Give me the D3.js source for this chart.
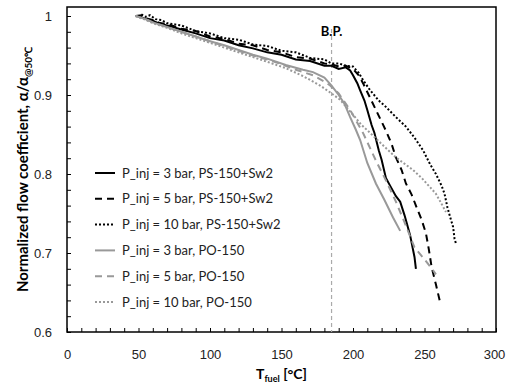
<!DOCTYPE html>
<html>
<head>
<meta charset="utf-8">
<script src="https://cdn.jsdelivr.net/npm/d3@7"></script>
<style>
  body { margin: 0; background: #fff; }
  svg { font-family: Lato, "Open Sans", sans-serif; display: block; }
</style>
</head>
<body>
<div id="chart"></div>
<script>
// series data: temperature [C] and normalized flow coefficient
var psT3  = [50,55,60,65,70,80,90,100,110,120,130,140,150,160,170,180,185,190,195,198,200,203,205,208,210,213,215,218,220,223,226,230,233,236,238,240,243,244];
var psV3  = [1.000,0.996,0.994,0.990,0.988,0.983,0.978,0.972,0.969,0.963,0.959,0.954,0.951,0.945,0.943,0.937,0.937,0.933,0.935,0.931,0.925,0.915,0.906,0.893,0.881,0.862,0.852,0.830,0.818,0.795,0.785,0.772,0.765,0.748,0.735,0.722,0.695,0.680];
var psT5  = [48,52,55,60,65,70,80,90,100,110,120,130,140,150,160,170,180,185,190,195,200,204,207,211,215,219,223,227,230,234,237,241,244,248,251,253,255,258,261];
var psV5  = [1.000,1.001,0.997,0.995,0.991,0.990,0.984,0.981,0.974,0.971,0.965,0.963,0.957,0.954,0.948,0.946,0.940,0.939,0.936,0.937,0.933,0.925,0.915,0.900,0.885,0.870,0.855,0.838,0.821,0.805,0.788,0.774,0.760,0.742,0.725,0.705,0.682,0.660,0.637];
var psT10 = [52,55,58,62,66,70,80,90,100,110,120,130,140,150,160,170,180,185,190,195,200,204,207,212,218,223,230,237,243,249,254,258,262,264,266,268,270,271,272];
var psV10 = [1.002,0.999,1.001,0.996,0.995,0.991,0.988,0.981,0.978,0.972,0.970,0.964,0.962,0.956,0.954,0.947,0.945,0.940,0.940,0.937,0.936,0.928,0.919,0.906,0.893,0.885,0.872,0.860,0.846,0.830,0.812,0.800,0.785,0.775,0.758,0.745,0.733,0.718,0.712];
var poT3  = [48,55,60,70,80,90,100,110,120,130,140,153,165,172,180,185,190,194,198,202,205,210,216,222,228,233];
var poV3  = [1.000,0.996,0.992,0.986,0.980,0.974,0.968,0.963,0.957,0.951,0.946,0.938,0.932,0.929,0.922,0.912,0.900,0.889,0.872,0.856,0.843,0.814,0.788,0.767,0.745,0.728];
var poT5  = [48,55,60,70,80,90,100,110,120,130,140,150,160,172,180,184,190,198,207,216,223,230,236,243,250,256,258];
var poV5  = [1.000,0.996,0.992,0.986,0.980,0.974,0.968,0.962,0.956,0.950,0.945,0.939,0.932,0.925,0.917,0.912,0.902,0.881,0.852,0.817,0.792,0.765,0.739,0.707,0.692,0.678,0.673];
var poT10 = [48,55,60,70,80,90,100,110,120,130,140,153,165,177,185,191,200,206,212,220,230,242,248,254,258,262,265];
var poV10 = [1.000,0.995,0.991,0.985,0.978,0.972,0.966,0.960,0.954,0.948,0.942,0.934,0.924,0.912,0.902,0.894,0.875,0.862,0.852,0.838,0.821,0.805,0.795,0.783,0.775,0.762,0.752];

var seriesNames = ["P_inj = 3 bar, PS-150+Sw2", "P_inj = 5 bar, PS-150+Sw2", "P_inj = 10 bar, PS-150+Sw2",
                   "P_inj = 3 bar, PO-150", "P_inj = 5 bar, PO-150", "P_inj = 10 bar, PO-150"];
var xTicks = [0, 50, 100, 150, 200, 250, 300];
var yTicks = [0.6, 0.7, 0.8, 0.9, 1];
var boilingPoint = 185;

var width = 506, height = 392,
    margin = {top: 7, right: 10, bottom: 60, left: 67};
var w = width - margin.left - margin.right,
    h = height - margin.top - margin.bottom;

var series = [
  {name: seriesNames[0], t: psT3,  v: psV3,  color: "#000", dash: null},
  {name: seriesNames[1], t: psT5,  v: psV5,  color: "#000", dash: "7,5"},
  {name: seriesNames[2], t: psT10, v: psV10, color: "#000", dash: "2,2"},
  {name: seriesNames[3], t: poT3,  v: poV3,  color: "#999", dash: null},
  {name: seriesNames[4], t: poT5,  v: poV5,  color: "#999", dash: "7,5"},
  {name: seriesNames[5], t: poT10, v: poV10, color: "#999", dash: "2,2"}
];

var svg = d3.select("#chart").append("svg")
  .attr("width", width).attr("height", height)
  .append("g")
  .attr("transform", `translate(${margin.left},${margin.top})`);

var x = d3.scaleLinear().domain([0, 300]).range([0, w]);
var y = d3.scaleLinear().domain([0.6, 1.0114]).range([h, 0]);

// frame
svg.append("rect")
  .attr("width", w).attr("height", h)
  .style("fill", "none").style("stroke", "#000").style("stroke-width", "1.5px");

// minor ticks
svg.append("g").attr("class", "x minor")
  .attr("transform", `translate(0,${h})`)
  .call(d3.axisTop(x).tickValues(d3.range(0, 301, 10)).tickSize(4).tickFormat(""))
  .call(g => g.select(".domain").remove());
svg.append("g").attr("class", "y minor")
  .call(d3.axisRight(y).tickValues(d3.range(0.6, 1.001, 0.02)).tickSize(4).tickFormat(""))
  .call(g => g.select(".domain").remove());

// major tick labels
svg.append("g").attr("class", "x axis")
  .attr("transform", `translate(0,${h})`)
  .call(d3.axisBottom(x).tickValues(xTicks).tickSize(0).tickPadding(18))
  .call(g => g.select(".domain").remove())
  .selectAll("text").style("font-size", "13px").attr("fill", "#222")
  .attr("dx", d => d === 300 ? -2 : 0);
svg.append("g").attr("class", "y axis")
  .call(d3.axisLeft(y).tickValues(yTicks).tickSize(0).tickPadding(15).tickFormat(d => d === 1 ? "1" : d3.format(".1f")(d)))
  .call(g => g.select(".domain").remove())
  .selectAll("text").style("font-size", "13px").attr("fill", "#222");

// boiling point line
svg.append("line")
  .attr("x1", x(boilingPoint)).attr("x2", x(boilingPoint))
  .attr("y1", 22).attr("y2", h)
  .attr("stroke", "#aaa").attr("stroke-width", 1.2).attr("stroke-dasharray", "4,3");
svg.append("text")
  .attr("x", x(boilingPoint)).attr("y", 29)
  .attr("text-anchor", "middle")
  .style("font-size", "13px").style("font-weight", "bold")
  .text("B.P.");

var line = d3.line().x(d => x(d[0])).y(d => y(d[1]));

svg.selectAll(".series")
  .data(series)
  .enter().append("path")
  .attr("class", "series")
  .attr("d", s => line(d3.zip(s.t, s.v)))
  .attr("fill", "none")
  .attr("stroke", s => s.color)
  .attr("stroke-width", 2)
  .attr("stroke-dasharray", s => s.dash);

// legend
var legend = svg.selectAll(".legend")
  .data(series)
  .enter().append("g")
  .attr("class", "legend")
  .attr("transform", (d, i) => `translate(28,${166 + i * 25.8})`);
legend.append("line")
  .attr("x1", 0).attr("x2", 20)
  .attr("stroke", d => d.color).attr("stroke-width", 2)
  .attr("stroke-dasharray", d => d.dash);
legend.append("text")
  .attr("x", 27).attr("dy", "0.35em")
  .style("font-size", "13px").attr("fill", "#222")
  .text(d => d.name);

// axis titles
var yt = svg.append("text")
  .attr("transform", `translate(-39,${h / 2}) rotate(-90)`)
  .attr("text-anchor", "middle")
  .style("font-size", "15px").style("font-weight", "bold");
yt.append("tspan").text("Normalized flow coefficient, α/α");
yt.append("tspan").attr("dy", 4).style("font-size", "10px").text("@50℃");

var xt = svg.append("text")
  .attr("x", w / 2).attr("y", h + 47)
  .attr("text-anchor", "middle")
  .style("font-size", "14px").style("font-weight", "bold");
xt.append("tspan").text("T");
xt.append("tspan").attr("dy", 3).style("font-size", "9px").text("fuel");
xt.append("tspan").attr("dy", -3).text(" [°C]");
</script>
</body>
</html>
